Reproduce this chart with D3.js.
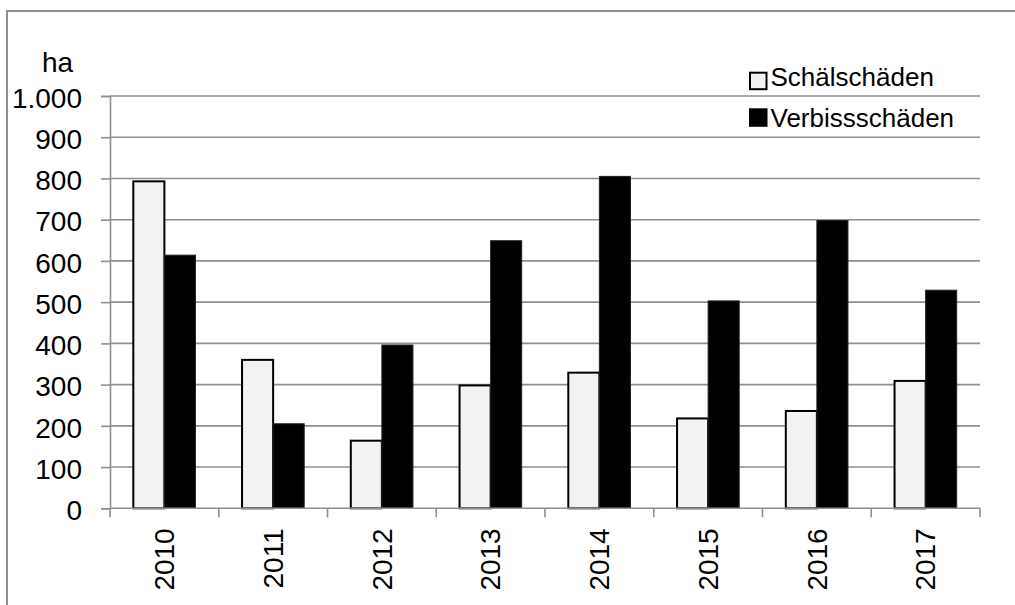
<!DOCTYPE html>
<html>
<head>
<meta charset="utf-8">
<script src="https://cdn.jsdelivr.net/npm/d3@7"></script>
<style>
  html, body { margin: 0; padding: 0; background: #fff; }
  svg { display: block; }
  text { font-family: "Liberation Sans", Arial, sans-serif; fill: #000; }
</style>
</head>
<body>
<svg id="chart" width="1015" height="605"></svg>
<script>
// Damaged forest area (ha) per year
const years = ["2010", "2011", "2012", "2013", "2014", "2015", "2016", "2017"];
const schaelschaeden = [793, 360, 164, 298, 329, 218, 236, 309];
const verbissschaeden = [614, 205, 396, 649, 805, 503, 698, 529];
const seriesNames = ["Schälschäden", "Verbissschäden"];
const yTicks = [0, 100, 200, 300, 400, 500, 600, 700, 800, 900, 1000];
const unitLabel = "ha";

const svg = d3.select("#chart");
const plotLeft = 110, plotRight = 980, plotTop = 96, plotBottom = 508.3;
const gridColor = "#8f8f8f";

// outer frame
svg.append("rect")
  .attr("x", 7).attr("y", 11)
  .attr("width", 1030).attr("height", 620)
  .attr("fill", "none").attr("stroke", gridColor).attr("stroke-width", 2);

const x = d3.scaleBand().domain(years).range([plotLeft, plotRight]).paddingInner(0).paddingOuter(0);
const y = d3.scaleLinear().domain([0, 1000]).range([plotBottom, plotTop]);
const fmt = v => d3.format(",")(v).replace(/,/g, ".");

// horizontal gridlines
svg.append("g").selectAll("line").data(yTicks.filter(t => t > 0)).join("line")
  .attr("x1", plotLeft).attr("x2", plotRight)
  .attr("y1", d => y(d)).attr("y2", d => y(d))
  .attr("stroke", gridColor).attr("stroke-width", 1.6);

// y axis
const yAxis = svg.append("g").attr("transform", `translate(${plotLeft},0)`)
  .call(d3.axisLeft(y).tickValues(yTicks).tickFormat(fmt).tickSize(9).tickPadding(19));
yAxis.select(".domain").attr("stroke", gridColor).attr("stroke-width", 1.6);
yAxis.selectAll(".tick line").attr("stroke", gridColor).attr("stroke-width", 1.6);
yAxis.selectAll(".tick text")
  .style("font-family", '"Liberation Sans", Arial, sans-serif')
  .style("font-size", "28px").attr("fill", "#000")
  .attr("dy", "0.4em");

// unit label
svg.append("text").attr("x", 57.5).attr("y", 72)
  .attr("text-anchor", "middle").style("font-size", "28px").text(unitLabel);

// bars: gap width 150% of bar width
const bw = x.bandwidth() / 3.5;
const off = (x.bandwidth() - 2 * bw) / 2;
const bars = svg.append("g");
bars.selectAll("rect.s").data(years).join("rect").attr("class", "s")
  .attr("x", (d) => x(d) + off)
  .attr("y", (d, i) => y(schaelschaeden[i]))
  .attr("width", bw)
  .attr("height", (d, i) => plotBottom - y(schaelschaeden[i]))
  .attr("fill", "#f2f2f2").attr("stroke", "#000").attr("stroke-width", 2);
bars.selectAll("rect.v").data(years).join("rect").attr("class", "v")
  .attr("x", (d) => x(d) + off + bw)
  .attr("y", (d, i) => y(verbissschaeden[i]))
  .attr("width", bw)
  .attr("height", (d, i) => plotBottom - y(verbissschaeden[i]))
  .attr("fill", "#000").attr("stroke", "#222").attr("stroke-width", 1);

// x axis
const xAxis = svg.append("g").attr("transform", `translate(0,${plotBottom})`)
  .call(d3.axisBottom(x).tickSize(0).tickPadding(0));
xAxis.select(".domain").remove();
svg.append("line").attr("x1", plotLeft).attr("x2", plotRight).attr("y1", plotBottom).attr("y2", plotBottom)
  .attr("stroke", gridColor).attr("stroke-width", 1.6);
svg.append("g").selectAll("line").data(years.concat([null])).join("line")
  .attr("x1", (d, i) => plotLeft + i * x.step()).attr("x2", (d, i) => plotLeft + i * x.step())
  .attr("y1", plotBottom).attr("y2", plotBottom + 9)
  .attr("stroke", gridColor).attr("stroke-width", 1.6);
xAxis.selectAll(".tick text")
  .style("font-family", '"Liberation Sans", Arial, sans-serif')
  .style("font-size", "28px").attr("fill", "#000")
  .attr("text-anchor", "end")
  .attr("dy", null).attr("y", 0)
  .attr("transform", "translate(9.8,20) rotate(-90)");

// legend
const legend = svg.append("g");
const legendRows = [
  { name: seriesNames[0], fill: "#f2f2f2", sy: 72.7, base: 86 },
  { name: seriesNames[1], fill: "#000", sy: 109.3, base: 127.3 }
];
legendRows.forEach(r => {
  legend.append("rect").attr("x", 750).attr("y", r.sy).attr("width", 16.5).attr("height", 16.5)
    .attr("fill", r.fill).attr("stroke", "#000").attr("stroke-width", 2);
  legend.append("text").attr("x", 770.5).attr("y", r.base)
    .style("font-size", "26px").text(r.name);
});
</script>
</body>
</html>
